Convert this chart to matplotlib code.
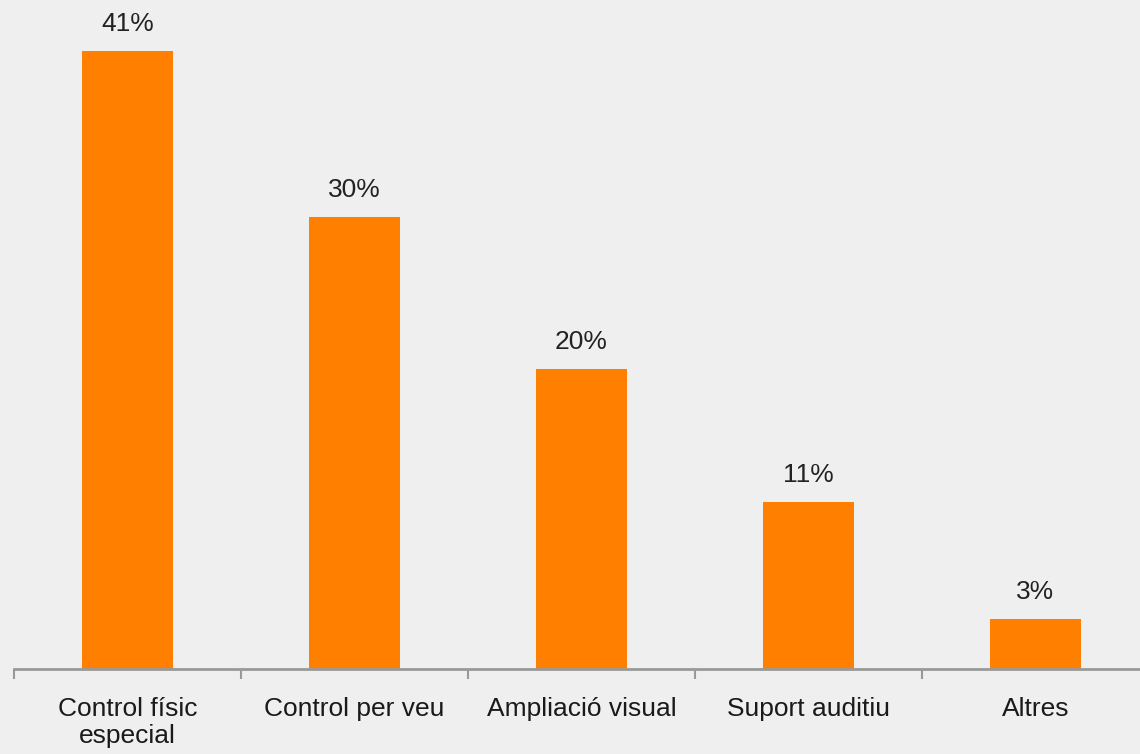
import matplotlib.pyplot as plt
import numpy as np

plt.rcParams['font.family'] = ['Liberation Sans', 'DejaVu Sans']

# dades
categories = ['Control físic\nespecial', 'Control per veu', 'Ampliació visual',
              'Suport auditiu', 'Altres']
values = [41, 30, 19.9, 11.1, 3.3]
value_labels = ['41%', '30%', '20%', '11%', '3%']

fig = plt.figure(figsize=(11.4, 7.54), dpi=100)
fig.patch.set_facecolor('#efefef')

# eixos: línia base a y=669 px, primera marca a x=14 px
ax = fig.add_axes([14 / 1140, 85 / 754, 1126 / 1140, 669 / 754])
ax.set_facecolor('none')

x = np.arange(len(categories))
ax.bar(x, values, width=0.397, color='#ff8000', zorder=2)

for xi, v, lab in zip(x, values, value_labels):
    ax.text(xi, v + 1.0, lab, ha='center', va='bottom', fontsize=19, color='#222222')

for s in ['top', 'right', 'left']:
    ax.spines[s].set_visible(False)
ax.spines['bottom'].set_color('#999999')
ax.spines['bottom'].set_linewidth(2)
ax.set_yticks([])

# marques entre categories
ax.set_xticks(np.arange(len(categories) + 1) - 0.5)
ax.set_xticklabels([])
ax.tick_params(axis='x', direction='out', length=7, width=1.5, color='#999999')
ax.set_xticks(x, minor=True)
ax.set_xticklabels(categories, minor=True, fontsize=19, color='#1a1a1a')
ax.tick_params(axis='x', which='minor', length=0, pad=20)
for t in ax.get_xticklabels(minor=True):
    t.set_linespacing(1.15)

# límits després de les marques (set_xticks els amplia)
ax.set_xlim(-0.5, -0.5 + 1126 / 227)
ax.set_ylim(0, 669 / 15.07)

fig.savefig('out.png', dpi=100, facecolor=fig.get_facecolor())
